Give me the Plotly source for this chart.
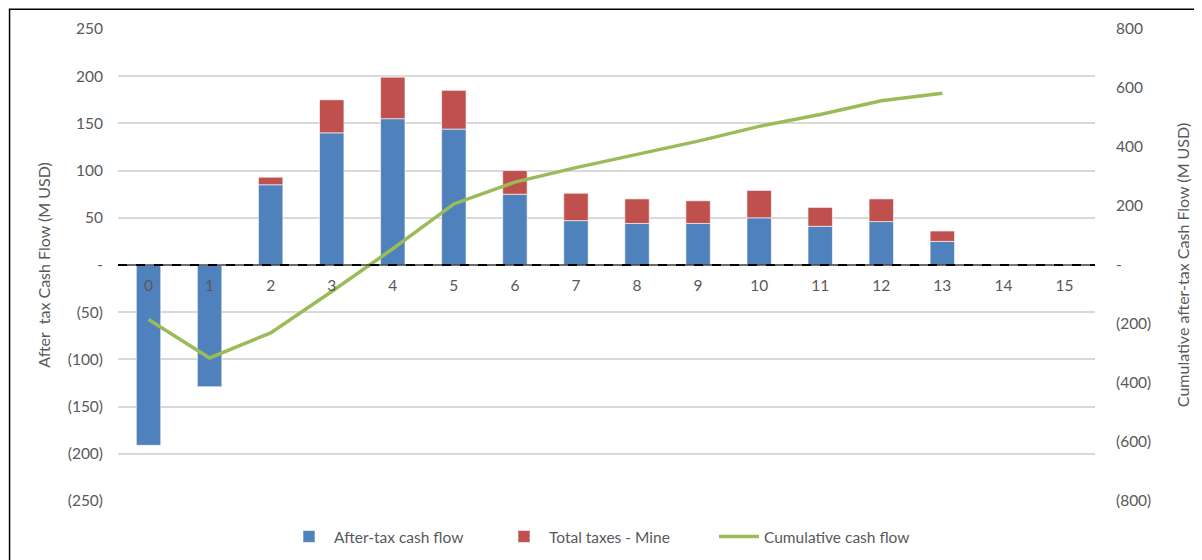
import plotly.graph_objects as go

# Data (M USD)
years = list(range(16))
after_tax_cf = [-191, -129, 85, 140, 155, 144, 75, 47, 44, 44, 50, 41, 46, 25, 0, 0]
total_taxes = [0, 0, 8, 35, 44, 41, 25, 29, 26, 24, 29, 20, 24, 11, 0, 0]
cum_years = list(range(14))
cumulative_cf = [-185, -315, -230, -90, 55, 207, 281, 330, 375, 420, 470, 510, 557, 582]

left_ticks = [250, 200, 150, 100, 50, 0, -50, -100, -150, -200, -250]
left_text = ["250", "200", "150", "100", "50", "-", "(50)", "(100)", "(150)", "(200)", "(250)"]
right_ticks = [800, 600, 400, 200, 0, -200, -400, -600, -800]
right_text = ["800", "600", "400", "200", "-", "(200)", "(400)", "(600)", "(800)"]

font_color = '#595959'

fig = go.Figure()

fig.add_trace(go.Bar(
    x=years, y=after_tax_cf, name='After-tax cash flow',
    marker=dict(color='#4F81BD', line=dict(color='rgba(255,255,255,0.6)', width=1)),
    width=0.4
))
fig.add_trace(go.Bar(
    x=years, y=total_taxes, name='Total taxes - Mine',
    marker=dict(color='#C0504D', line=dict(color='rgba(255,255,255,0.6)', width=1)),
    width=0.4
))
fig.add_trace(go.Scatter(
    x=cum_years, y=cumulative_cf, name='Cumulative cash flow',
    mode='lines', line=dict(color='#9BBB59', width=3.5), yaxis='y2'
))

# zero line: black with dashed overlay
fig.add_shape(type='line', xref='paper', yref='y', x0=0, x1=1, y0=0, y1=0,
              line=dict(color='black', width=1.2))
fig.add_shape(type='line', xref='paper', yref='y', x0=0, x1=1, y0=0, y1=0,
              line=dict(color='black', width=2, dash='dash'))

# outer frame (left and top edges visible)
fig.add_shape(type='rect', xref='paper', yref='paper',
              x0=-0.111, x1=1.3, y0=-0.3, y1=1.042,
              line=dict(color='black', width=1.5), fillcolor='rgba(0,0,0,0)', layer='below')

fig.update_layout(
    width=1202, height=560,
    margin=dict(l=110, r=115, t=21, b=67, autoexpand=False),
    barmode='relative',
    bargap=0.6,
    paper_bgcolor='white', plot_bgcolor='white',
    font=dict(family='Lato, Open Sans, sans-serif', size=15.5, color=font_color),
    xaxis=dict(
        range=[-0.5, 15.5], tickvals=years, ticktext=[str(y) for y in years],
        anchor='free', position=0.5, showline=False, showgrid=False, ticks='',
        zeroline=False, automargin=False, ticklabelstandoff=9,
        tickfont=dict(size=15.5, color=font_color)
    ),
    yaxis=dict(
        range=[-250, 250], tickvals=left_ticks, ticktext=left_text,
        showgrid=True, gridcolor='#D9D9D9', gridwidth=1.5, zeroline=False,
        automargin=False,
        title=dict(text='After  tax Cash Flow (M USD)', standoff=13,
                   font=dict(size=16, color=font_color)),
        ticklabelstandoff=14
    ),
    yaxis2=dict(
        range=[-800, 800], tickvals=right_ticks, ticktext=right_text,
        overlaying='y', side='right', showgrid=False, zeroline=False,
        automargin=False,
        title=dict(text='Cumulative after-tax Cash Flow (M USD)', standoff=27,
                   font=dict(size=16, color=font_color)),
        ticklabelstandoff=20
    ),
    legend=dict(orientation='h', x=0.5, xanchor='center', y=-0.04, yanchor='top',
                font=dict(size=15.5, color=font_color), itemwidth=40,
                entrywidth=160, entrywidthmode='pixels',
                traceorder='normal'),
    showlegend=True
)

fig.write_html("out.html")
